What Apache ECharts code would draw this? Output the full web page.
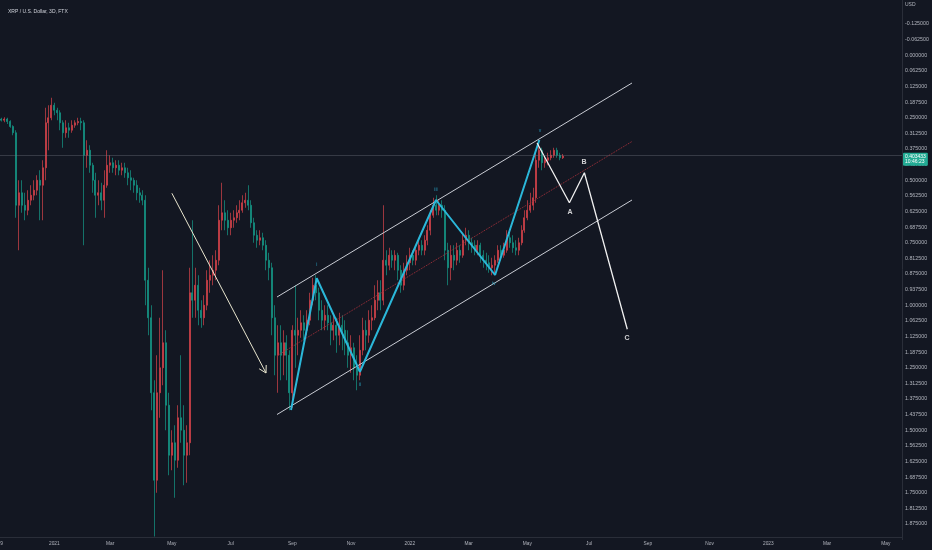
<!DOCTYPE html>
<html>
<head>
<meta charset="utf-8">
<script src="https://cdn.jsdelivr.net/npm/echarts@6/dist/echarts.min.js"></script>
<style>
html,body{margin:0;padding:0;background:#131722;}
#chart{width:932px;height:550px;}
</style>
</head>
<body>
<div id="chart"></div>
<script>
// ---- axis / categories ----
const startDate = '2020-11-08';
const stepDays = 3;
const categoryCount = 307;
const tickDates = ['2020-11-08','2021-01-01','2021-03-01','2021-05-01','2021-07-01','2021-09-01','2021-11-01','2022-01-01','2022-03-01','2022-05-01','2022-07-01','2022-09-01','2022-11-01','2023-01-01','2023-03-01','2023-05-01'];
const tickTexts = ['9','2021','Mar','May','Jul','Sep','Nov','2022','Mar','May','Jul','Sep','Nov','2023','Mar','May'];
const titleText = 'XRP / U.S. Dollar, 3D, FTX';
const currencyText = 'USD';
const lastPrice = 0.403433;
const countdownText = '10:46:23';

// ---- XRP 3D candles: [open, close, low, high] ----
const ohlc = [
[0.255,0.26,0.25,0.265],[0.26,0.255,0.248,0.268],[0.255,0.265,0.25,0.275],[0.265,0.285,0.26,0.29],[0.285,0.31,0.28,0.32],
[0.31,0.6,0.3,0.65],[0.6,0.55,0.5,0.78],[0.55,0.6,0.5,0.63],[0.6,0.62,0.55,0.66],[0.62,0.58,0.54,0.64],
[0.58,0.56,0.52,0.6],[0.56,0.54,0.5,0.58],[0.54,0.5,0.48,0.56],[0.5,0.52,0.46,0.66],[0.52,0.45,0.42,0.66],
[0.45,0.27,0.21,0.5],[0.27,0.25,0.2,0.38],[0.25,0.2,0.17,0.26],[0.2,0.22,0.19,0.24],[0.22,0.23,0.21,0.26],
[0.23,0.27,0.22,0.3],[0.27,0.31,0.26,0.37],[0.31,0.29,0.26,0.33],[0.29,0.3,0.27,0.33],[0.3,0.28,0.26,0.31],
[0.28,0.27,0.26,0.29],[0.27,0.265,0.25,0.28],[0.265,0.27,0.25,0.3],[0.27,0.4,0.26,0.76],[0.4,0.38,0.34,0.45],
[0.38,0.44,0.36,0.47],[0.44,0.5,0.43,0.55],[0.5,0.56,0.47,0.65],[0.56,0.55,0.5,0.6],[0.55,0.58,0.51,0.62],
[0.58,0.52,0.46,0.65],[0.52,0.44,0.38,0.53],[0.44,0.43,0.4,0.47],[0.43,0.45,0.41,0.47],[0.45,0.44,0.42,0.48],
[0.44,0.46,0.42,0.48],[0.46,0.45,0.43,0.48],[0.45,0.47,0.43,0.49],[0.47,0.49,0.45,0.52],[0.49,0.5,0.46,0.54],
[0.5,0.52,0.49,0.55],[0.52,0.55,0.5,0.58],[0.55,0.56,0.53,0.59],[0.56,0.58,0.54,0.6],[0.58,0.9,0.56,1.0],
[0.9,1.05,0.85,1.12],[1.05,1.35,1.0,1.42],[1.35,1.7,1.3,1.925],[1.7,1.35,1.2,1.75],[1.35,1.25,1.05,1.45],
[1.25,1.15,0.86,1.32],[1.15,1.4,1.1,1.5],[1.4,1.6,1.35,1.68],[1.6,1.55,1.5,1.66],[1.55,1.62,1.48,1.77],
[1.62,1.45,1.4,1.65],[1.45,1.5,1.2,1.55],[1.5,1.6,1.4,1.72],[1.6,1.55,1.48,1.71],[1.55,0.95,0.85,1.6],
[0.95,0.98,0.66,1.05],[0.98,0.92,0.85,1.05],[0.92,1.02,0.88,1.08],[1.02,1.05,0.98,1.09],[1.05,1.0,0.96,1.08],
[1.0,0.9,0.86,1.02],[0.9,0.88,0.82,0.95],[0.88,0.86,0.8,0.92],[0.86,0.82,0.78,0.9],[0.82,0.66,0.6,0.84],
[0.66,0.63,0.51,0.7],[0.63,0.66,0.58,0.7],[0.66,0.69,0.62,0.72],[0.69,0.66,0.63,0.72],[0.66,0.65,0.62,0.69],
[0.65,0.63,0.6,0.67],[0.63,0.62,0.58,0.66],[0.62,0.59,0.56,0.63],[0.59,0.58,0.55,0.61],[0.58,0.6,0.52,0.62],
[0.6,0.67,0.58,0.69],[0.67,0.72,0.65,0.75],[0.72,0.74,0.7,0.77],[0.74,0.73,0.7,0.76],[0.73,0.76,0.71,0.78],
[0.76,0.82,0.74,0.86],[0.82,0.85,0.79,0.9],[0.85,1.05,0.83,1.12],[1.05,1.2,1.0,1.28],[1.2,1.15,1.08,1.35],
[1.15,1.2,1.08,1.3],[1.2,1.15,1.1,1.28],[1.15,1.2,1.12,1.3],[1.2,1.35,1.18,1.42],[1.35,1.1,1.08,1.41],
[1.1,1.12,0.92,1.25],[1.12,1.1,1.05,1.2],[1.1,1.07,1.02,1.13],[1.07,1.1,1.04,1.14],[1.1,1.06,1.02,1.12],
[1.06,0.98,0.95,1.08],[0.98,0.92,0.89,1.0],[0.92,0.95,0.88,0.98],[0.95,1.02,0.93,1.06],[1.02,1.06,0.98,1.1],
[1.06,1.04,1.0,1.1],[1.04,1.07,1.0,1.1],[1.07,1.1,1.04,1.16],[1.1,1.08,1.04,1.14],[1.08,1.12,1.05,1.19],
[1.12,1.08,1.03,1.16],[1.08,1.1,1.04,1.18],[1.1,1.15,1.06,1.2],[1.15,1.2,1.1,1.25],[1.2,1.17,1.12,1.27],
[1.17,1.25,1.15,1.3],[1.25,1.28,1.2,1.34],[1.28,1.18,1.12,1.3],[1.18,1.1,1.05,1.2],[1.1,1.12,1.06,1.18],
[1.12,1.06,1.02,1.15],[1.06,1.05,1.0,1.1],[1.05,0.98,0.92,1.06],[0.98,0.95,0.9,1.02],[0.95,0.98,0.9,1.02],
[0.98,0.82,0.6,1.0],[0.82,0.84,0.78,0.88],[0.84,0.8,0.77,0.86],[0.8,0.82,0.78,0.85],[0.82,0.8,0.78,0.86],
[0.8,0.86,0.79,0.9],[0.86,0.92,0.84,0.95],[0.92,0.86,0.83,0.94],[0.86,0.83,0.8,0.88],[0.83,0.8,0.77,0.86],
[0.8,0.82,0.78,0.84],[0.82,0.78,0.76,0.84],[0.78,0.76,0.73,0.8],[0.76,0.78,0.74,0.8],[0.78,0.74,0.72,0.8],
[0.74,0.7,0.68,0.76],[0.7,0.64,0.62,0.72],[0.64,0.6,0.57,0.65],[0.6,0.62,0.56,0.64],[0.62,0.6,0.58,0.64],
[0.6,0.62,0.58,0.65],[0.62,0.78,0.6,0.82],[0.78,0.85,0.75,0.92],[0.85,0.8,0.76,0.9],[0.8,0.82,0.76,0.86],
[0.82,0.78,0.75,0.84],[0.78,0.8,0.76,0.83],[0.8,0.74,0.71,0.81],[0.74,0.72,0.69,0.76],[0.72,0.75,0.7,0.78],
[0.75,0.76,0.73,0.79],[0.76,0.78,0.74,0.8],[0.78,0.76,0.74,0.8],[0.76,0.8,0.75,0.83],[0.8,0.82,0.78,0.85],
[0.82,0.83,0.79,0.86],[0.83,0.85,0.8,0.87],[0.85,0.84,0.81,0.88],[0.84,0.82,0.8,0.88],[0.82,0.78,0.76,0.83],
[0.78,0.8,0.76,0.82],[0.8,0.78,0.75,0.81],[0.78,0.73,0.7,0.79],[0.73,0.75,0.71,0.77],[0.75,0.77,0.72,0.79],
[0.77,0.78,0.74,0.8],[0.78,0.75,0.73,0.8],[0.75,0.7,0.68,0.76],[0.7,0.65,0.62,0.71],[0.65,0.62,0.58,0.66],
[0.62,0.6,0.55,0.63],[0.6,0.57,0.53,0.62],[0.57,0.42,0.38,0.59],[0.42,0.38,0.34,0.45],[0.38,0.43,0.37,0.46],
[0.43,0.42,0.4,0.45],[0.42,0.41,0.39,0.44],[0.41,0.4,0.38,0.42],[0.4,0.38,0.37,0.41],[0.38,0.4,0.37,0.41],
[0.4,0.41,0.39,0.42],[0.41,0.403433,0.395,0.415]
];

// ---- drawings: [candle index, price] ----
const channelUpper = [[93.78,0.967],[214.6,0.111]];
const channelLower = [[93.78,1.437],[214.6,0.579]];
const channelMid = [[93.78,1.202],[214.6,0.345]];
const trendArrow = [[58.0,0.552],[90.04,1.271]];
const arrowHead = [[87.7,1.254],[90.04,1.271],[90.1,1.239]];
const waveCount = [[98.55,1.419],[107.3,0.892],[122.0,1.266],[147.9,0.579],[168.0,0.879],[183.06,0.339]];
const projection = [[182.3,0.351],[193.3,0.590],[198.4,0.470],[213.0,1.096]];
const waveLabels = [[107.3,0.839,'i'],[122.0,1.319,'ii'],[147.9,0.539,'iii'],[167.6,0.915,'iv'],[183.3,0.303,'v']];
const abcLabels = [[193.5,0.627,'A'],[198.3,0.427,'B'],[212.9,1.131,'C']];

// ---- build ----
const DAY = 86400000;
const t0 = Date.parse(startDate + 'T00:00:00Z');
const categories = [];
for (let i = 0; i < categoryCount; i++) {
  categories.push(new Date(t0 + i * stepDays * DAY).toISOString().slice(0, 10));
}
const tickMap = {};
tickDates.forEach((d, k) => {
  const idx = Math.floor((Date.parse(d + 'T00:00:00Z') - t0) / (stepDays * DAY));
  tickMap[idx] = tickTexts[k];
});

const FONT = 'Liberation Sans';
const chart = echarts.init(document.getElementById('chart'), null, {renderer: 'canvas'});

function lineSeries(data, color, width, type) {
  return {
    type: 'line', xAxisIndex: 1, yAxisIndex: 0, data: data, symbol: 'none',
    lineStyle: {color: color, width: width, type: type || 'solid'},
    silent: true, z: 5, animation: false
  };
}

chart.setOption({
  backgroundColor: '#131722',
  animation: false,
  title: {
    text: titleText, left: 3, top: 4,
    textStyle: {color: '#d1d4dc', fontSize: 5, fontWeight: 'normal', fontFamily: FONT}
  },
  graphic: [{
    type: 'text', left: 905, top: 2,
    style: {text: currencyText, fill: '#b2b5be', fontSize: 5, fontFamily: FONT}
  }],
  grid: {left: 0, width: 902, top: -7.25, height: 546.875, outerBoundsMode: 'none', containLabel: false},
  xAxis: [{
    type: 'category', data: categories, boundaryGap: true, offset: -2,
    axisLine: {show: true, onZero: false, lineStyle: {color: '#2a2e39', width: 1}},
    axisTick: {show: false},
    splitLine: {show: false},
    axisLabel: {
      color: '#b2b5be', fontSize: 4.8, fontFamily: FONT, margin: 4,
      interval: function (index) { return tickMap[index] !== undefined; },
      formatter: function (v, index) { return tickMap[index] || ''; }
    }
  }, {
    type: 'value', min: -0.5, max: categoryCount - 0.5, show: false,
    axisLine: {show: false, onZero: false}, splitLine: {show: false}
  }],
  yAxis: [{
    type: 'value', position: 'right', inverse: true,
    min: -0.25, max: 1.9375, interval: 0.0625,
    axisLine: {show: true, onZero: false, lineStyle: {color: '#2a2e39', width: 1}},
    axisTick: {show: false},
    splitLine: {show: false},
    axisLabel: {
      color: '#b2b5be', fontSize: 5.3, fontFamily: FONT, margin: 3,
      formatter: function (v) { return (v < -0.13 || v > 1.9) ? '' : v.toFixed(6); }
    }
  }],
  series: [
    {
      type: 'candlestick', xAxisIndex: 0, yAxisIndex: 0, data: ohlc, barWidth: 1.5,
      itemStyle: {color: '#159a88', color0: '#d9434b', borderColor: '#159a88', borderColor0: '#d9434b', borderWidth: 0.7},
      markLine: {
        silent: true, symbol: 'none', animation: false,
        data: [{yAxis: lastPrice}],
        lineStyle: {color: 'rgba(120,123,134,0.35)', type: 'solid', width: 1},
        label: {
          show: true, position: 'end', distance: 1, offset: [0, 4],
          formatter: function () { return lastPrice.toFixed(6) + '\n' + countdownText; },
          backgroundColor: '#22ab94', color: '#ffffff', fontSize: 5, lineHeight: 5.5,
          fontFamily: FONT, padding: [1, 2, 1, 2], borderRadius: 1
        },
        z: 10
      }
    },
    lineSeries(channelUpper, '#c9ccd4', 1),
    lineSeries(channelLower, '#c9ccd4', 1),
    lineSeries(channelMid, '#a3303a', 1, 'dotted'),
    lineSeries(trendArrow, '#e9e6cf', 1),
    lineSeries(arrowHead, '#e9e6cf', 1),
    lineSeries(waveCount, '#2bb7d9', 2),
    lineSeries(projection, '#f0f0f0', 1.3),
    {
      type: 'scatter', xAxisIndex: 1, yAxisIndex: 0, symbolSize: 0, silent: true, z: 6,
      data: waveLabels,
      label: {show: true, position: 'inside', formatter: function (p) { return p.data[2]; },
        color: '#2bb7d9', fontSize: 5, fontFamily: FONT}
    },
    {
      type: 'scatter', xAxisIndex: 1, yAxisIndex: 0, symbolSize: 0, silent: true, z: 6,
      data: abcLabels,
      label: {show: true, position: 'inside', formatter: function (p) { return p.data[2]; },
        color: '#ffffff', fontSize: 7, fontWeight: 'bold', fontFamily: FONT}
    }
  ]
});
</script>
</body>
</html>
